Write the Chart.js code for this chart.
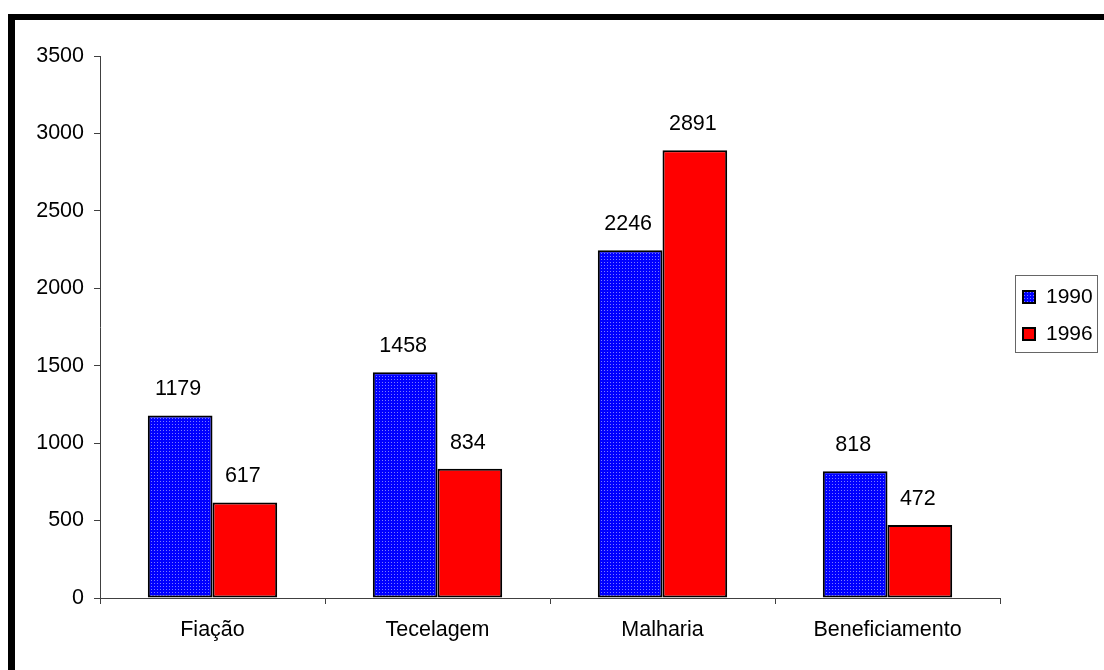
<!DOCTYPE html>
<html>
<head>
<meta charset="utf-8">
<script src="https://cdn.jsdelivr.net/npm/chart.js@4/dist/chart.umd.min.js"></script>
<style>
  html, body { margin: 0; padding: 0; background: #fff; overflow: hidden; }
  #wrap { position: relative; width: 1104px; height: 670px; }
  #frame {
    position: absolute; left: 8px; top: 14px; width: 1200px; height: 800px;
    border-top: 6px solid #000; border-left: 7px solid #000;
  }
  #myChart { position: absolute; left: 0; top: 0; }
</style>
</head>
<body>
<div id="wrap">
  <div id="frame"></div>
  <canvas id="myChart" width="1104" height="670"></canvas>
</div>
<script>
var categories = ['Fiação', 'Tecelagem', 'Malharia', 'Beneficiamento'];
var years = ['1990', '1996'];
var values1990 = [1179, 1458, 2246, 818];
var values1996 = [617, 834, 2891, 472];
var yTicks = [0, 500, 1000, 1500, 2000, 2500, 3000, 3500];

document.addEventListener("DOMContentLoaded", main);

function main(){
  renderChart();
}

// blue fill with little light dots, like the old excel pattern
function dottedBlue(){
  var c = document.createElement('canvas');
  c.width = 3; c.height = 3;
  var g = c.getContext('2d');
  g.fillStyle = '#0000ff';
  g.fillRect(0, 0, 3, 3);
  g.fillStyle = '#7a7aff';
  g.fillRect(1, 1, 1, 1);
  return g.createPattern(c, 'repeat');
}

var FONT = '"Liberation Sans", Arial, sans-serif';

var valueLabels = {
  id: 'valueLabels',
  afterDatasetsDraw: function(chart){
    var ctx = chart.ctx;
    ctx.save();
    ctx.font = '21.5px ' + FONT;
    ctx.fillStyle = '#000';
    ctx.textAlign = 'center';
    ctx.textBaseline = 'middle';
    chart.data.datasets.forEach(function(ds, i){
      var meta = chart.getDatasetMeta(i);
      meta.data.forEach(function(bar, j){
        ctx.fillText(String(ds.data[j]), bar.x - 2, bar.y - 26);
      });
    });
    ctx.restore();
  }
};

var boxLegend = {
  id: 'boxLegend',
  afterDraw: function(chart){
    var ctx = chart.ctx;
    var left = 1015, top = 275, w = 82, h = 77;
    ctx.save();
    ctx.fillStyle = '#fff';
    ctx.fillRect(left, top, w, h);
    ctx.strokeStyle = '#666';
    ctx.lineWidth = 1;
    ctx.strokeRect(left + 0.5, top + 0.5, w, h);
    ctx.font = '21px ' + FONT;
    ctx.textBaseline = 'middle';
    chart.data.datasets.forEach(function(ds, i){
      var y = top + 22 + i * 37;
      ctx.fillStyle = ds.backgroundColor;
      ctx.fillRect(left + 8, y - 6, 12, 12);
      ctx.strokeStyle = '#000';
      ctx.lineWidth = 2;
      ctx.strokeRect(left + 8, y - 6, 12, 12);
      ctx.fillStyle = '#000';
      ctx.fillText(ds.label, left + 31, y);
    });
    ctx.restore();
  }
};

function renderChart() {
  var ctx = document.getElementById("myChart").getContext('2d');
  var font = { family: FONT, size: 21.5 };
  var myChart = new Chart(ctx, {
    type: 'bar',
    data: {
      labels: categories,
      datasets: [{
        label: years[0],
        data: values1990,
        backgroundColor: dottedBlue(),
        borderColor: '#000',
        borderWidth: 2,
        borderSkipped: false
      }, {
        label: years[1],
        data: values1996,
        backgroundColor: '#ff0000',
        borderColor: '#000',
        borderWidth: 2,
        borderSkipped: false
      }]
    },
    options: {
      responsive: false,
      animation: false,
      layout: { padding: { top: 56, right: 104, bottom: 0, left: 0 } },
      datasets: { bar: { categoryPercentage: 0.575, barPercentage: 1 } },
      plugins: { legend: { display: false }, tooltip: { enabled: false } },
      scales: {
        x: {
          afterFit: function(s){ s.height = 72; },
          grid: { drawOnChartArea: false, tickLength: 6, color: '#404040', offset: true },
          border: { color: '#404040', width: 1 },
          ticks: { color: '#000', font: font, padding: 13 }
        },
        y: {
          min: 0, max: 3500,
          afterFit: function(s){ s.width = 100; },
          afterBuildTicks: function(s){
            s.ticks = yTicks.map(function(v){ return { value: v }; });
          },
          grid: { drawOnChartArea: false, tickLength: 6, color: '#404040' },
          border: { color: '#404040', width: 1 },
          ticks: {
            color: '#000', font: font, padding: 10,
            callback: function(v){ return String(v); }
          }
        }
      }
    },
    plugins: [valueLabels, boxLegend]
  });
}
</script>
</body>
</html>
